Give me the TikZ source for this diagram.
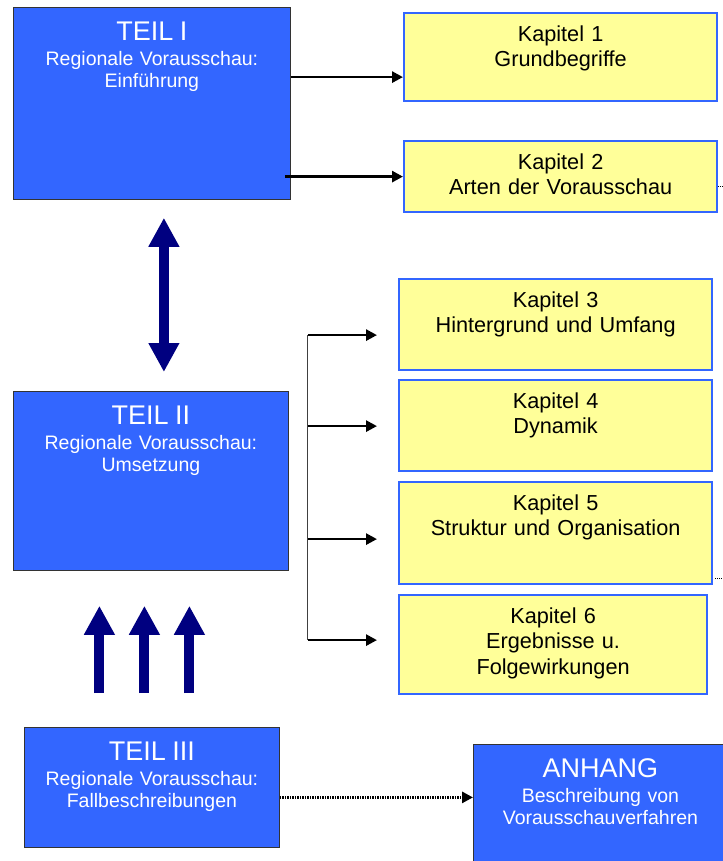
\documentclass[tikz,border=0pt]{standalone}
\usepackage{fontspec}
\setmainfont{Liberation Sans}
\usetikzlibrary{arrows.meta}
\definecolor{teilblue}{HTML}{3366FF}
\definecolor{kapyellow}{HTML}{FFFF99}
\definecolor{darknavy}{HTML}{000080}
\newcommand{\teiltitle}[1]{{\fontsize{27}{27}\selectfont #1}\\[3pt]}
\begin{document}
\begin{tikzpicture}[x=1pt, y=-1pt,
    teil/.style={draw=black!80, line width=0.8pt, fill=teilblue, text=white, inner sep=0pt,
      anchor=north west, align=center, text width=#1, text height=33pt,
      font=\fontsize{19.5}{22}\selectfont},
    kap/.style={draw=teilblue, line width=2.2pt, fill=kapyellow, inner sep=0pt,
      anchor=north west, align=center, text width=#1, text height=28pt,
      font=\fontsize{21.7}{25.5}\selectfont},
    arr/.style={line width=2.7pt, -{Triangle[length=11pt,width=11pt]}},
    busline/.style={draw=black!75, line width=1.3pt},
    stub/.style={line width=1pt, dash pattern=on 1pt off 1pt},
    fat/.style={draw=darknavy, line width=10pt},
    fathead/.tip={Triangle[length=29pt,width=29pt]}]
  \useasboundingbox (0,0) rectangle (722,861);
  \node[teil=277pt, text depth=159pt] (t1) at (13,7) {\teiltitle{TEIL I}Regionale Vorausschau:\\Einführung};
  \node[kap=313pt, text depth=60pt] (k1) at (403,12) {Kapitel 1\\Grundbegriffe};
  \node[kap=313pt, text depth=43pt] (k2) at (403,140) {Kapitel 2\\Arten der Vorausschau};
  \node[kap=313pt, text depth=63pt] (k3) at (398,278) {Kapitel 3\\Hintergrund und Umfang};
  \node[kap=313pt, text depth=63pt] (k4) at (398,379) {Kapitel 4\\Dynamik};
  \node[kap=313pt, text depth=74pt] (k5) at (398,481) {Kapitel 5\\Struktur und Organisation};
  \node[kap=308pt, text depth=71pt] (k6) at (398,594) {Kapitel 6\\Ergebnisse u.\\Folgewirkungen};
  \node[teil=275pt, text depth=146pt] (t2) at (13,391) {\teiltitle{TEIL II}Regionale Vorausschau:\\Umsetzung};
  \node[teil=255pt, text depth=87pt] (t3) at (24,727) {\teiltitle{TEIL III}Regionale Vorausschau:\\Fallbeschreibungen};
  \node[teil=254pt, text depth=87pt] (anh) at (473,744) {\teiltitle{ANHANG}Beschreibung von\\Vorausschauverfahren};

  \coordinate (a1) at ([yshift=-20pt]k1.west);
  \coordinate (a2) at ([xshift=-6pt]t1.east);
  \draw[arr] (a1 -| t1.east) -- (a1);
  \draw[arr] (a2 |- k2.west) -- (k2.west);
  \draw[stub] ([yshift=-9.5pt]k2.east) -- ++(10,0);

  \draw[fat, fathead-fathead, shorten <=18pt, shorten >=19pt]
    ([xshift=12pt]t1.south) -- ([xshift=12pt]t1.south |- t2.north);
  \foreach \dx in {-51.5,-6.5,38.5}
    \draw[fat, -fathead, shorten <=34pt, shorten >=35pt]
      ([xshift=\dx pt]t2.south |- t3.north) -- ([xshift=\dx pt]t2.south);

  \coordinate (bus) at ([xshift=19pt]t2.east);
  \foreach \k/\dy in {k3/-10.5,k4/-0.5,k5/-6,k6/4.5} {
    \coordinate (e\k) at ([yshift=\dy pt]\k.west);
    \draw[arr, shorten >=21pt] (e\k -| bus) -- (e\k);
  }
  \draw[busline] (bus |- ek3) -- (bus |- ek6);
  \draw[stub] ([shift={(2pt,7pt)}]k5.south east) -- ++(10,0);

  \coordinate (d1) at ([yshift=-10pt]t3.east);
  \draw[arr, dash pattern=on 1.5pt off 1pt] (d1) -- (d1 -| anh.west);
\end{tikzpicture}
\end{document}
